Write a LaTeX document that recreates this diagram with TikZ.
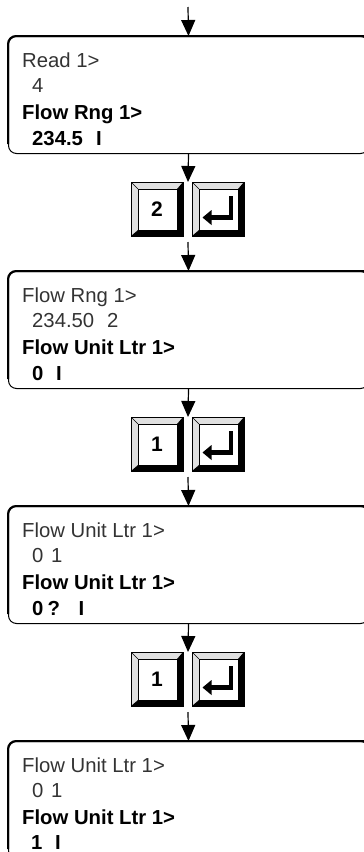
\documentclass[tikz,border=0pt]{standalone}
\usepackage{fontspec}
\setmainfont{Liberation Sans}
\usetikzlibrary{arrows.meta,calc}
\newcommand{\kbevel}{%
 \path (path picture bounding box.north west) coordinate (oNW)
       (path picture bounding box.north east) coordinate (oNE)
       (path picture bounding box.south east) coordinate (oSE)
       (path picture bounding box.south west) coordinate (oSW);
 \path ([xshift=7pt,yshift=-7pt]oNW) coordinate (iNW)
       ([xshift=-6pt,yshift=-7pt]oNE) coordinate (iNE)
       ([xshift=-6pt,yshift=6pt]oSE) coordinate (iSE)
       ([xshift=7pt,yshift=6pt]oSW) coordinate (iSW);
 \fill[black!12] (oSW) -- (oNW) -- (oNE) -- (iNE) -- (iNW) -- (iSW) -- cycle;
 \fill[black] (oNE) -- (oSE) -- (oSW) -- (iSW) -- (iSE) -- (iNE) -- cycle;
 \draw[line width=0.4pt] (oNW) -- (iNW);
 \draw[line width=0.6pt, fill=white] (iNW) rectangle (iSE);
}
\newcommand{\kenter}{%
 \coordinate (kc) at (path picture bounding box.center);
 \draw[line width=4.5pt, line join=miter] ([xshift=13pt,yshift=13pt]kc) -- ([xshift=13pt,yshift=-8.5pt]kc) -- ([xshift=-7.5pt,yshift=-8.5pt]kc);
 \fill ([xshift=-15.5pt,yshift=-8.5pt]kc) -- ([xshift=-6.5pt,yshift=-1pt]kc) -- ([xshift=-6.5pt,yshift=-16pt]kc) -- cycle;
}
\tikzset{
 lcd/.style={draw, line width=1pt, rounded corners=8pt, minimum width=360pt, minimum height=117pt, inner sep=0pt, anchor=north west},
 lcdtop/.style={line width=2pt, rounded corners=8pt},
 lt/.style={anchor=base west, inner sep=0pt, text=black!80, font=\fontsize{20.3}{24}\selectfont},
 bt/.style={anchor=base west, inner sep=0pt, font=\bfseries\fontsize{20.3}{24}\selectfont},
 keycap/.style={draw, line width=1pt, minimum width=52pt, minimum height=54pt, inner sep=0pt, font=\bfseries\fontsize{21}{24}\selectfont, path picture={\kbevel}},
 enterkey/.style={keycap, path picture={\kbevel\kenter}},
 arr/.style={line width=1.2pt, -{Triangle[width=14pt,length=16pt]}}
}
\begin{document}
\begin{tikzpicture}[x=1pt,y=1pt]
\useasboundingbox (0,0) rectangle (364,-852);
\clip (0,0) rectangle (364,-852);

% boxes
\node[lcd] (b1) at (8,-36) {};
\node[lcd] (b2) at (8,-271) {};
\node[lcd] (b3) at (8,-506) {};
\node[lcd] (b4) at (8,-741) {};
\foreach \b in {b1,b2,b3,b4}{
  \draw[lcdtop] ([yshift=10pt]\b.south west) -- (\b.north west) -- (\b.north east);
}

% box 1 text
\node[lt] (b1a) at (22,-67) {Read 1>};
\node[lt] (b1b) at (32,-92) {4};
\node[bt] (b1c) at (22,-119) {Flow Rng 1>};
\node[bt] (b1d) at (32,-145) {\makebox[64pt][l]{234.5}I};

% box 2 text
\node[lt] (b2a) at (22,-302) {Flow Rng 1>};
\node[lt] (b2b) at (32,-327) {\makebox[75pt][l]{234.50}2};
\node[bt] (b2c) at (22,-354) {Flow Unit Ltr 1>};
\node[bt] (b2d) at (32,-380) {\makebox[24pt][l]{0}I};

% box 3 text
\node[lt] (b3a) at (22,-537) {Flow Unit Ltr 1>};
\node[lt] (b3b) at (32,-562) {\makebox[19pt][l]{0}1};
\node[bt] (b3c) at (22,-589) {Flow Unit Ltr 1>};
\node[bt] (b3d) at (32,-615) {\makebox[15.5pt][l]{0}\makebox[31pt][l]{?}I};

% box 4 text
\node[lt] (b4a) at (22,-772) {Flow Unit Ltr 1>};
\node[lt] (b4b) at (32,-797) {\makebox[19pt][l]{0}1};
\node[bt] (b4c) at (22,-824) {Flow Unit Ltr 1>};
\node[bt] (b4d) at (31,-849) {\makebox[24pt][l]{1}I};

% keys
\node[keycap] (k1a) at (157,-209) {2};
\node[enterkey] (k1b) at (218,-209) {};
\node[keycap] (k2a) at (157,-444) {1};
\node[enterkey] (k2b) at (218,-444) {};
\node[keycap] (k3a) at (157,-679) {1};
\node[enterkey] (k3b) at (218,-679) {};

% connector points
\coordinate (s0) at (188,-7);
\coordinate (kt1) at (188,-182);
\coordinate (kb1) at (188,-242);
\coordinate (kt2) at (188,-417);
\coordinate (kb2) at (188,-477);
\coordinate (kt3) at (188,-652);
\coordinate (kb3) at (188,-712);

% arrows
\draw[arr] (s0) -- (b1.north);
\draw[arr] (b1.south) -- (kt1);
\draw[arr] (kb1) -- (b2.north);
\draw[arr] (b2.south) -- (kt2);
\draw[arr] (kb2) -- (b3.north);
\draw[arr] (b3.south) -- (kt3);
\draw[arr] (kb3) -- (b4.north);
\end{tikzpicture}
\end{document}
